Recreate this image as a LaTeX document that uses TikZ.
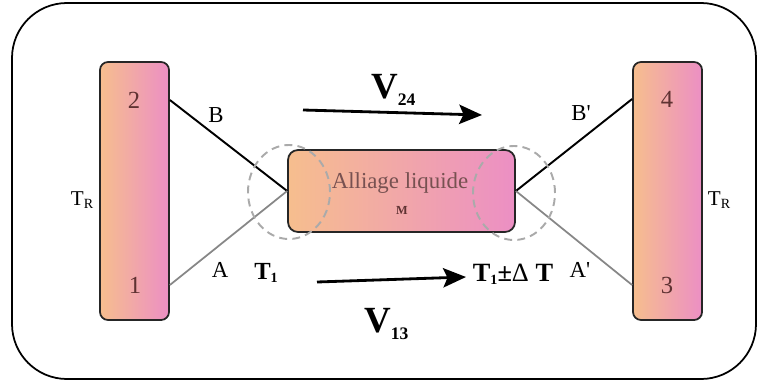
\documentclass[tikz,border=0pt]{standalone}
\usepackage{fontspec}
\setmainfont{Liberation Serif}
\usetikzlibrary{arrows.meta}
\definecolor{orangeclair}{RGB}{246,190,142}
\definecolor{rosevif}{RGB}{236,143,196}
\definecolor{grisfil}{RGB}{135,135,135}
\definecolor{grispoint}{RGB}{170,170,170}
\definecolor{brunfonce}{RGB}{95,50,50}
% indice : descente, taille, texte
\newcommand{\indice}[3]{\raisebox{-#1}{\fontsize{#2}{#2}\selectfont #3}}

\begin{document}
\begin{tikzpicture}[scale=1.0,>={Stealth[length=13pt,width=11pt,inset=2.5pt]},
  bain/.style={draw=black!85,line width=1pt,rounded corners=0.16cm,
    left color=orangeclair,right color=rosevif,
    minimum width=1.38cm,minimum height=5.16cm},
  etiq/.style={font=\fontsize{13}{13}\selectfont},
  chiffre/.style={font=\fontsize{14}{14}\selectfont,text=brunfonce},
  fleche/.style={->,line width=1.6pt},
  jonction/.style={grispoint,line width=1.1pt,dash pattern=on 4.5pt off 3pt}]
  \useasboundingbox (0,0) rectangle (15.16,7.7);

  % Cadre
  \draw[line width=1pt,rounded corners=1.1cm] (0.24,0.12) rectangle (15.12,7.64);

  % Bains a la temperature T_R
  \node[bain] (bainG) at (2.69,3.88) {};
  \node[bain] (bainD) at (13.35,3.88) {};
  \node[chiffre] (n2) at (2.68,5.7) {2};
  \node[chiffre] (n1) at (2.70,2.0) {1};
  \node[chiffre] (n4) at (13.34,5.72) {4};
  \node[chiffre] (n3) at (13.34,2.0) {3};
  \node[font=\fontsize{12}{12}\selectfont] (trG) at (1.64,3.7) {T\indice{1.5pt}{8}{R}};
  \node[font=\fontsize{12}{12}\selectfont] (trD) at (14.38,3.7) {T\indice{1.5pt}{8}{R}};

  % Alliage liquide
  \node[draw=black!85,line width=1pt,rounded corners=0.2cm,
    left color=orangeclair,right color=rosevif,
    minimum width=4.54cm,minimum height=1.64cm] (alliage) at (8.03,3.88) {};
  \node[etiq,text=brunfonce!85] (nom) at (8.0,4.04) {Alliage liquide};
  \node[font=\fontsize{7}{7}\selectfont\bfseries,text=brunfonce] (m) at (8.04,3.5) {M};

  % Fils des thermocouples
  \draw[line width=1.1pt] (bainG.east |- n2) -- (alliage.west);
  \draw[grisfil,line width=1pt] (bainG.east |- n1) -- (alliage.west);
  \draw[line width=1.1pt] (alliage.east) -- (bainD.west |- n4);
  \draw[grisfil,line width=1pt] (alliage.east) -- (bainD.west |- n3);
  \node[etiq] (fB) at (4.32,5.4) {B};
  \node[etiq] (fA) at (4.40,2.3) {A};
  \node[etiq] (fBp) at (11.62,5.44) {B\textquotesingle};
  \node[etiq] (fAp) at (11.60,2.3) {A\textquotesingle};

  % Jonctions
  \draw[jonction] (5.78,3.86) ellipse (0.82 and 0.94);
  \draw[jonction] (10.28,3.84) ellipse (0.82 and 0.94);

  % Temperatures
  \node[font=\fontsize{14}{14}\selectfont\bfseries] (t1) at (5.32,2.24) {T\indice{1.7pt}{8}{1}};
  \node[font=\fontsize{15}{15}\selectfont\bfseries] (t1dt) at (10.26,2.22) {T\indice{1.7pt}{8}{1}±{\mdseries Δ} T};

  % Deplacements
  \coordinate (h1) at (6.06,5.5);
  \coordinate (h2) at (9.64,5.4);
  \coordinate (b1) at (6.34,2.06);
  \coordinate (b2) at (9.32,2.16);
  \draw[fleche] (h1) -- (h2);
  \draw[fleche] (b1) -- (b2);
  \node[anchor=base west,font=\fontsize{21}{21}\selectfont\bfseries] (v24) at (7.30,5.74) {V\indice{4pt}{10}{24}};
  \node[anchor=base west,font=\fontsize{21}{21}\selectfont\bfseries] (v13) at (7.16,1.06) {V\indice{4pt}{10}{13}};
\end{tikzpicture}
\end{document}
